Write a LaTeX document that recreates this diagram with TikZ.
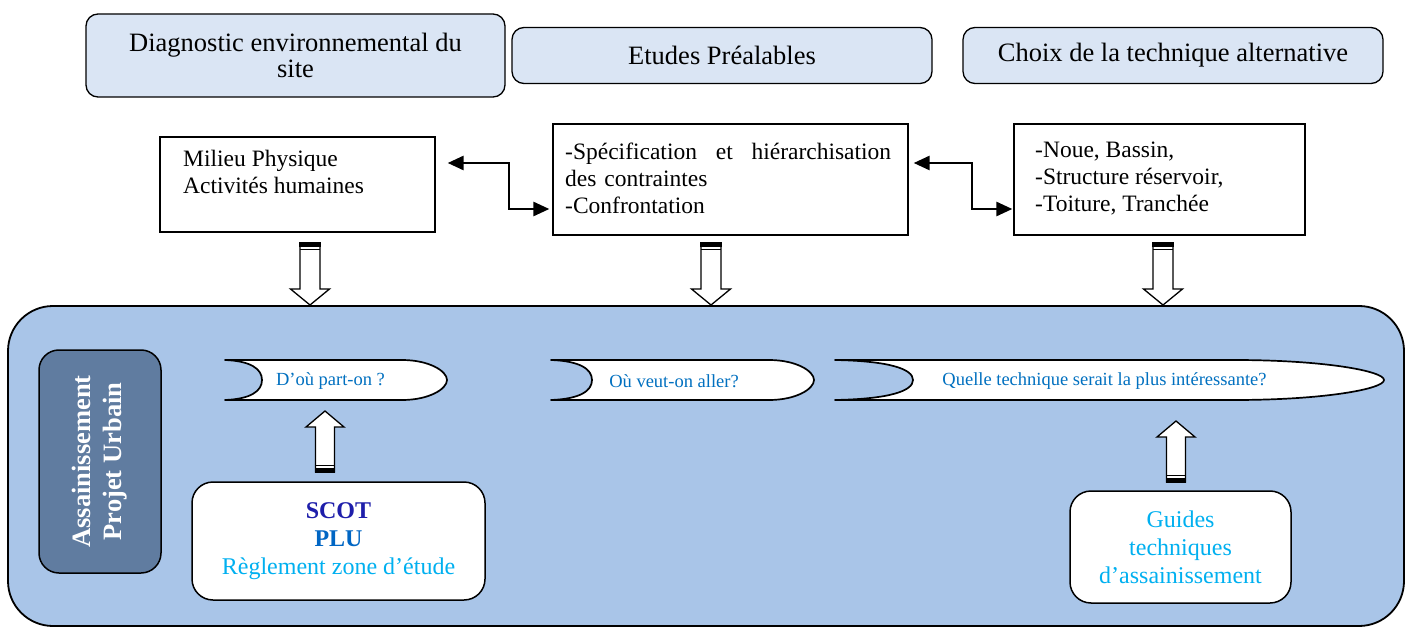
\documentclass[tikz,border=0pt]{standalone}
\usepackage{fontspec}
\setmainfont{Liberation Serif}
\usetikzlibrary{arrows.meta,calc}
\definecolor{topfill}{RGB}{218,229,244}
\definecolor{bigfill}{RGB}{169,197,232}
\definecolor{darkfill}{RGB}{96,124,160}
\definecolor{bantext}{RGB}{0,112,192}
\definecolor{scotc}{RGB}{30,30,170}
\definecolor{pluc}{RGB}{0,102,196}
\definecolor{reglc}{RGB}{0,176,240}
\newcommand\sizeTop{\fontsize{26.5}{28}\selectfont}
\newcommand\sizeMid{\fontsize{23.5}{27}\selectfont}
\newcommand\sizeBan{\fontsize{18.5}{22}\selectfont}
\newcommand\sizeLow{\fontsize{24}{28}\selectfont}
\newcommand\sizeVert{\fontsize{26.5}{31}\selectfont}
\newcommand\bannerpath[5]{% name, left, right, indent, round length
  \draw[bannerst] (#2,360) -- ({#3-#5},360)
    .. controls ({#3-0.4*#5},360) and (#3,371) .. (#3,380)
    .. controls (#3,389) and ({#3-0.4*#5},400) .. ({#3-#5},400)
    -- (#2,400)
    .. controls ({#2+0.7*#4},399) and ({#2+#4},391) .. ({#2+#4},380)
    .. controls ({#2+#4},369) and ({#2+0.7*#4},361) .. (#2,360) -- cycle;
  \coordinate (#1) at ({(#2+#3)/2},380);}
\tikzset{
  topbox/.style={draw=black, line width=1.3pt, fill=topfill, rounded corners=12pt,
    inner sep=0pt, align=center, font=\sizeTop},
  midbox/.style={draw=black, line width=1.3pt, fill=white, inner sep=0pt},
  midtext/.style={inner sep=0pt, font=\sizeMid, align=left, anchor=west},
  bigbox/.style={draw=black, line width=1.8pt, fill=bigfill, rounded corners=45pt, inner sep=0pt},
  darkbox/.style={draw=black, line width=1.5pt, fill=darkfill, rounded corners=20pt,
    inner sep=0pt, align=center, text=white, font=\sizeVert\bfseries},
  wbox/.style={draw=black, line width=1.5pt, fill=white, rounded corners=21pt,
    inner sep=0pt, align=center, font=\sizeLow},
  bannerst/.style={draw=black, line width=1.7pt, fill=white, line join=round},
  bantxt/.style={inner sep=0pt, font=\sizeBan, text=bantext},
  dconn/.style={line width=2.7pt, {Triangle[length=16pt,width=14pt]}-{Triangle[length=16pt,width=14pt]}},
  barrow/.style={draw=black, line width=1.3pt, fill=white, line join=miter},
  downarr/.pic={
    \draw[barrow] (-10,0) -- (10,0) -- (10,46) -- (19.5,46) -- (0,62) -- (-19.5,46) -- (-10,46) -- cycle;
    \fill[black] (-10.6,-0.6) rectangle (10.6,3.6);
    \draw[line width=1.3pt] (-10,6.8) -- (10,6.8);
  },
  uparr/.pic={
    \draw[barrow] (-9.5,0) -- (-9.5,-45) -- (-19,-45) -- (0,-61) -- (19,-45) -- (9.5,-45) -- (9.5,0) -- cycle;
    \fill[black] (-10.1,0.6) rectangle (10.1,-3.6);
    \draw[line width=1.3pt] (-9.5,-6.8) -- (9.5,-6.8);
  }
}
\begin{document}
\begin{tikzpicture}[x=1pt,y=-1pt]
\useasboundingbox (0,0) rectangle (1410,628);

% top header boxes
\node[topbox, minimum width=419pt, minimum height=83pt] (t1) at (295.5,55.5)
  {\raisebox{-3pt}{\shortstack{Diagnostic environnemental du\\site}}};
\node[topbox, minimum width=420pt, minimum height=56pt] (t2) at (722,55.5) {\raisebox{-1.5pt}{Etudes Préalables}};
\node[topbox, minimum width=420pt, minimum height=56pt] (t3) at (1173,55.5) {\raisebox{-1.5pt}{Choix de la technique alternative}};

% middle boxes
\node[midbox, minimum width=275pt, minimum height=95pt] (A) at (297.5,184.5) {};
\node[midbox, minimum width=355pt, minimum height=111pt] (B) at (730.5,179.5) {};
\node[midbox, minimum width=291pt, minimum height=111pt] (C) at (1159.5,179.5) {};
\node[midtext] (Atx) at (183,172) {Milieu Physique\\Activités humaines};
\node[midtext, text width=326pt] (Btx) at (565,178)
  {-Spécification\hfill et\hfill hiérarchisation\\des contraintes\\-Confrontation};
\node[midtext] (Ctx) at (1035,179) {-Noue, Bassin,\\-Structure réservoir,\\-Toiture, Tranchée};

% double connectors
\coordinate (r1) at (0,163);
\coordinate (r2) at (0,209);
\coordinate (k1) at (509,0);
\coordinate (k2) at (972,0);
\draw[dconn] ([xshift=12pt]A.east |- r1) -- (k1 |- r1) -- (k1 |- r2) -- ([xshift=-3pt]B.west |- r2);
\draw[dconn] ([xshift=5pt]B.east |- r1) -- (k2 |- r1) -- (k2 |- r2) -- ([xshift=-1pt]C.west |- r2);

% big background box
\node[bigbox, minimum width=1396pt, minimum height=320pt] (big) at (706,466) {};

% down block arrows
\pic (d1) at (310,243) {downarr};
\pic (d2) at (711,243) {downarr};
\pic (d3) at (1163,243) {downarr};

% dark vertical box
\node[darkbox, rotate=90, minimum width=223pt, minimum height=122pt] (dk) at (100,461.5)
  {Assainissement\\Projet Urbain};

% banners
\bannerpath{b1}{225}{447}{37}{45}
\bannerpath{b2}{551}{814}{41}{45}
\bannerpath{b3}{835}{1384}{78}{150}
\node[bantxt] (q1) at (330.5,381) {D’où part-on ?};
\node[bantxt] (q2) at (674,381) {Où veut-on aller?};
\node[bantxt] (q3) at (1104.5,381) {Quelle technique serait la plus intéressante?};

% lower boxes
\node[wbox, minimum width=293pt, minimum height=118pt] (scot) at (338.5,541)
  {\textcolor{scotc}{\bfseries SCOT}\\\textcolor{pluc}{\bfseries PLU}\\\textcolor{reglc}{Règlement zone d’étude}};
\node[wbox, minimum width=221pt, minimum height=112pt, text=reglc] (guid) at (1180.5,547)
  {Guides\\techniques\\d’assainissement};

% up block arrows
\pic (u1) at (325,472) {uparr};
\pic (u2) at (1176,482) {uparr};
\end{tikzpicture}
\end{document}
